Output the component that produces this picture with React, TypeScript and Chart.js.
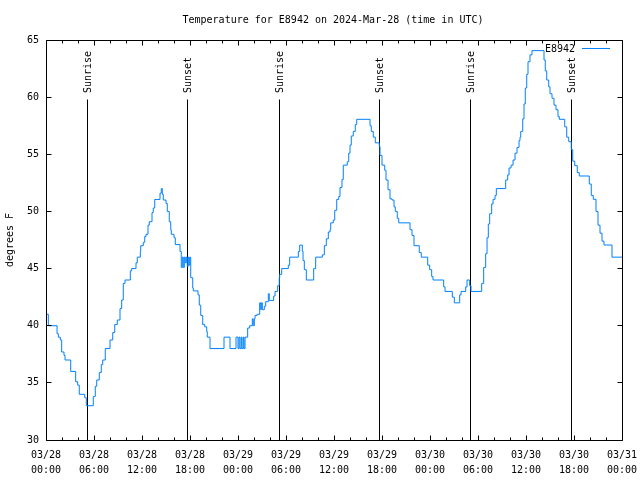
import React, { useEffect, useRef } from "react";
import { Chart, registerables } from "chart.js";

Chart.register(...registerables);

const chartTitle = "Temperature for E8942 on 2024-Mar-28 (time in UTC)";
const seriesName = "E8942";
const yAxisTitle = "degrees F";

// hours since 2024-03-28 00:00 UTC
const hours = [
  0, 0.29, 1.38, 1.54, 1.79, 1.96, 2.25, 2.38, 3.09, 3.71, 3.96, 4.16, 4.84, 5.04, 5.91, 6.16,
  6.34, 6.66, 6.91, 7.09, 7.41, 8.0, 8.34, 8.59, 8.91, 9.25, 9.46, 9.66, 9.88, 10.54, 10.71, 11.25,
  11.41, 11.79, 11.84, 12.16, 12.34, 12.5, 12.75, 12.91, 13.25, 13.41, 13.59, 14.25, 14.41, 14.54,
  14.66, 15.0, 15.16, 15.41, 15.59, 15.66, 16.0, 16.16, 16.75, 16.91, 17.04, 17.16, 17.29, 17.41,
  17.54, 17.66, 17.79, 17.91, 18.0, 18.09, 18.34, 18.41, 19.0, 19.16, 19.34, 19.59, 19.84, 20.09,
  20.16, 20.5, 22.25, 23.0, 23.75, 24.0, 24.13, 24.25, 24.41, 24.5, 24.66, 24.75, 24.88, 25.21,
  25.46, 25.79, 25.91, 26.04, 26.13, 26.38, 26.71, 26.84, 26.91, 27.04, 27.29, 27.46, 27.79, 27.91,
  28.46, 28.63, 28.96, 29.16, 29.21, 29.46, 30.29, 30.46, 31.54, 31.71, 32.04, 32.13, 32.29, 32.54,
  33.46, 33.71, 34.54, 34.79, 35.04, 35.29, 35.5, 35.59, 35.91, 36.09, 36.34, 36.59, 36.75, 37.0,
  37.16, 37.66, 37.84, 38.0, 38.16, 38.41, 38.66, 38.84, 40.5, 40.66, 40.91, 41.16, 41.66, 41.75,
  42.0, 42.34, 42.5, 42.75, 43.0, 43.25, 43.5, 43.66, 43.91, 44.09, 45.5, 45.75, 46.0, 46.66, 46.91,
  47.71, 47.96, 48.21, 48.38, 49.71, 49.88, 50.79, 51.04, 51.71, 51.88, 52.46, 52.63, 52.96, 53.13,
  54.46, 54.71, 54.96, 55.13, 55.29, 55.46, 55.71, 55.88, 56.13, 56.29, 57.46, 57.71, 57.88, 58.13,
  58.38, 58.63, 58.88, 59.13, 59.25, 59.34, 59.59, 59.75, 59.91, 60.09, 60.25, 60.5, 60.75, 62.25,
  62.41, 62.59, 62.84, 63.0, 63.25, 63.5, 63.75, 64.0, 64.16, 64.84, 65.09, 65.34, 65.66, 65.84,
  66.09, 66.41, 66.66, 67.91, 68.16, 68.41, 68.75, 69.0, 69.25, 69.5, 69.75, 70.75, 72.0,
];

const tempF = [
  41.0, 40.0, 39.3, 39.0, 38.75, 37.7, 37.4, 37.0, 36.0, 35.1, 34.8, 34.0, 33.7, 33.0, 33.8, 34.7,
  35.25, 35.9, 36.6, 37.0, 38.0, 38.75, 39.4, 40.1, 40.5, 41.5, 42.25, 43.7, 44.0, 44.8, 45.0, 45.5,
  46.0, 46.5, 47.0, 47.3, 47.8, 48.0, 48.8, 49.1, 49.9, 50.3, 51.05, 51.6, 52.0, 51.5,
  51.0, 50.7, 50.0, 49.1, 48.4, 48.0, 47.7, 47.1, 46.5, 45.1, 46.0, 45.1, 46.0, 45.5,
  46.0, 45.2, 46.0, 45.3, 46.0, 44.2, 43.3, 43.05, 42.7, 41.8, 40.9, 40.1, 39.9, 39.5,
  39.0, 38.0, 39.0, 38.0, 39.0, 38.0, 39.0, 38.0, 39.0, 38.0, 39.0, 38.0, 39.0, 39.8,
  40.0, 40.6, 40.0, 40.6, 40.9, 41.0, 42.0, 41.4, 42.0, 41.4, 41.7, 42.1, 42.8, 42.2,
  42.6, 43.0, 43.5, 44.2, 44.5, 45.0, 45.3, 46.0, 46.5, 47.05, 46.5, 45.7, 44.9, 44.0,
  45.0, 46.0, 46.2, 47.0, 47.6, 48.2, 48.4, 49.0, 49.25, 50.1, 51.05, 51.3, 52.1, 52.8,
  54.05, 54.35, 55.1, 55.8, 56.6, 57.0, 57.6, 58.06, 57.5, 57.0, 56.5, 56.0, 55.7, 54.9,
  54.05, 53.6, 52.75, 51.9, 51.1, 51.0, 50.4, 50.0, 49.4, 49.0, 48.4, 47.9, 47.0, 46.4, 46.0,
  45.3, 44.9, 44.3, 44.0, 43.4, 43.0, 42.5, 42.0, 42.7, 43.0, 43.4, 44.0, 43.5, 43.0,
  43.7, 45.1, 46.3, 47.7, 48.9, 49.8, 50.65, 51.06, 51.4, 52.0, 52.75, 53.2, 53.8, 54.05,
  54.5, 55.1, 55.6, 56.2, 56.5, 57.0, 58.1, 59.4, 60.8, 62.0, 63.1, 63.7, 64.07, 63.25,
  62.3, 61.5, 60.9, 60.3, 59.9, 59.3, 58.9, 58.3, 58.06, 57.4, 56.5, 56.1, 55.4, 54.4,
  54.0, 53.4, 53.1, 52.4, 51.4, 51.06, 50.0, 48.8, 48.1, 47.4, 47.06, 46.0, 46.0,
];

const xTickHours = [0, 6, 12, 18, 24, 30, 36, 42, 48, 54, 60, 66, 72];
const xTickDates = ["03/28", "03/28", "03/28", "03/28", "03/29", "03/29", "03/29", "03/29", "03/30", "03/30", "03/30", "03/30", "03/31"];
const xTickTimes = ["00:00", "06:00", "12:00", "18:00", "00:00", "06:00", "12:00", "18:00", "00:00", "06:00", "12:00", "18:00", "00:00"];
const xMinorStep = 2;
const yTicks = [30, 35, 40, 45, 50, 55, 60, 65];

const sunLabels = ["Sunrise", "Sunset", "Sunrise", "Sunset", "Sunrise", "Sunset"];
const sunHours = [5.17, 17.68, 29.16, 41.68, 53.12, 65.68];

const FONT = '10px "DejaVu Sans Mono", "Liberation Mono", monospace';
const LINE_COLOR = "#0080ff";

const snap = (v: number) => Math.floor(v) + 0.5;

const sunLinesPlugin = {
  id: "sunLines",
  beforeDatasetsDraw(chart: any) {
    const { ctx, chartArea: a, scales } = chart;
    const xs = scales.x;
    ctx.save();
    ctx.strokeStyle = "#000";
    ctx.lineWidth = 1;
    ctx.fillStyle = "#000";
    ctx.font = FONT;
    sunHours.forEach((h, i) => {
      const px = snap(xs.getPixelForValue(h));
      ctx.beginPath();
      ctx.moveTo(px, 99.5);
      ctx.lineTo(px, a.bottom);
      ctx.stroke();
      ctx.save();
      ctx.translate(px + 0.5, 93);
      ctx.rotate(-Math.PI / 2);
      ctx.textAlign = "left";
      ctx.textBaseline = "middle";
      ctx.fillText(sunLabels[i], 0, 0);
      ctx.restore();
    });
    ctx.restore();
  },
};

const framePlugin = {
  id: "frame",
  afterDatasetsDraw(chart: any) {
    const { ctx, chartArea: a, scales } = chart;
    const xs = scales.x;
    const ys = scales.y;
    const L = snap(a.left);
    const R = snap(a.right);
    const T = snap(a.top);
    const B = snap(a.bottom);
    ctx.save();
    ctx.strokeStyle = "#000";
    ctx.fillStyle = "#000";
    ctx.lineWidth = 1;
    ctx.font = FONT;

    // border
    ctx.beginPath();
    ctx.rect(L, T, R - L, B - T);
    ctx.stroke();

    // x ticks (major + minor), mirrored
    ctx.beginPath();
    for (let h = 0; h <= 72; h += xMinorStep) {
      const px = snap(xs.getPixelForValue(h));
      const len = h % 6 === 0 ? 5 : 3;
      ctx.moveTo(px, B);
      ctx.lineTo(px, B - len);
      ctx.moveTo(px, T);
      ctx.lineTo(px, T + len);
    }
    // y ticks mirrored
    yTicks.forEach((v) => {
      const py = snap(ys.getPixelForValue(v));
      ctx.moveTo(L, py);
      ctx.lineTo(L + 5, py);
      ctx.moveTo(R, py);
      ctx.lineTo(R - 5, py);
    });
    ctx.stroke();

    // y tick labels
    ctx.textAlign = "right";
    ctx.textBaseline = "middle";
    yTicks.forEach((v) => {
      ctx.fillText(String(v), 39, ys.getPixelForValue(v));
    });

    // x tick labels
    ctx.textAlign = "center";
    xTickHours.forEach((h, i) => {
      const px = xs.getPixelForValue(h);
      ctx.fillText(xTickDates[i], px, 455);
      ctx.fillText(xTickTimes[i], px, 470);
    });

    // title
    ctx.fillText(chartTitle, 333, 20);

    // y axis title
    ctx.save();
    ctx.translate(10, 240);
    ctx.rotate(-Math.PI / 2);
    ctx.textAlign = "center";
    ctx.fillText(yAxisTitle, 0, 0);
    ctx.restore();

    // legend
    ctx.textAlign = "right";
    ctx.fillText(seriesName, 575, 49);
    ctx.strokeStyle = LINE_COLOR;
    ctx.beginPath();
    ctx.moveTo(582, 48.5);
    ctx.lineTo(610, 48.5);
    ctx.stroke();

    ctx.restore();
  },
};

export default function App() {
  const canvasRef = useRef<HTMLCanvasElement | null>(null);

  useEffect(() => {
    const canvas = canvasRef.current;
    if (!canvas) return;
    const chart = new Chart(canvas, {
      type: "line",
      data: {
        datasets: [
          {
            label: seriesName,
            data: hours.map((h, i) => ({ x: h, y: tempF[i] })),
            borderColor: LINE_COLOR,
            borderWidth: 1,
            pointRadius: 0,
            stepped: true,
            fill: false,
          },
        ],
      },
      options: {
        animation: false,
        responsive: false,
        devicePixelRatio: 1,
        events: [],
        layout: { padding: { left: 46, right: 18, top: 40, bottom: 40 } },
        scales: {
          x: { type: "linear", min: 0, max: 72, display: false },
          y: { type: "linear", min: 30, max: 65, display: false },
        },
        plugins: {
          legend: { display: false },
          title: { display: false },
          tooltip: { enabled: false },
        },
      },
      plugins: [sunLinesPlugin, framePlugin],
    });
    return () => chart.destroy();
  }, []);

  return (
    <div style={{ position: "fixed", left: 0, top: 0, width: 640, height: 480, background: "#fff" }}>
      <canvas ref={canvasRef} width={640} height={480} style={{ display: "block", width: 640, height: 480 }} />
    </div>
  );
}
